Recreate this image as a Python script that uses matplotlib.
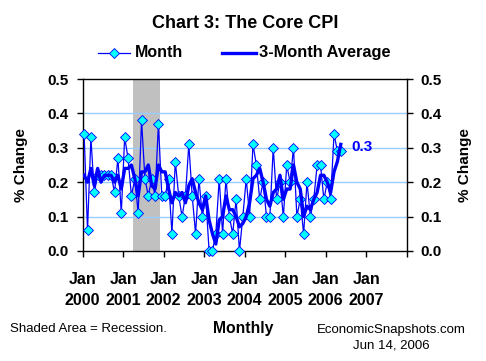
import numpy as np
import matplotlib
matplotlib.use("Agg")
import matplotlib.pyplot as plt

plt.rcParams['font.family'] = ['Liberation Sans', 'DejaVu Sans']

# --- dados: variação mensal do núcleo do CPI (%), jan/2000 a mai/2006 ---
month = [0.34, 0.06, 0.33, 0.17, 0.22, 0.22, 0.22, 0.22, 0.22, 0.17, 0.27, 0.11,
         0.33, 0.27, 0.16, 0.21, 0.11, 0.38, 0.21, 0.16, 0.21, 0.16, 0.37, 0.16,
         0.16, 0.21, 0.05, 0.26, 0.16, 0.10, 0.16, 0.31, 0.16, 0.05, 0.21, 0.10,
         0.16, 0.00, 0.00, 0.05, 0.21, 0.05, 0.21, 0.10, 0.05, 0.15, 0.00, 0.10,
         0.21, 0.10, 0.31, 0.25, 0.15, 0.20, 0.10, 0.10, 0.30, 0.15, 0.20, 0.10,
         0.25, 0.20, 0.30, 0.10, 0.15, 0.05, 0.20, 0.10, 0.15, 0.25, 0.25, 0.15,
         0.20, 0.15, 0.34, 0.29, 0.29]

avg3 = [0.22, 0.20, 0.24, 0.19, 0.24, 0.20, 0.22, 0.22, 0.22, 0.20, 0.22, 0.18,
        0.24, 0.24, 0.25, 0.21, 0.16, 0.23, 0.23, 0.25, 0.19, 0.18, 0.25, 0.23,
        0.23, 0.18, 0.14, 0.17, 0.16, 0.17, 0.14, 0.19, 0.21, 0.17, 0.14, 0.12,
        0.16, 0.09, 0.05, 0.02, 0.09, 0.10, 0.16, 0.12, 0.12, 0.10, 0.07, 0.08,
        0.10, 0.14, 0.21, 0.22, 0.24, 0.20, 0.15, 0.13, 0.17, 0.18, 0.22, 0.15,
        0.18, 0.18, 0.25, 0.20, 0.18, 0.10, 0.13, 0.12, 0.15, 0.17, 0.22, 0.22,
        0.20, 0.17, 0.23, 0.26, 0.31]

years = ['2000', '2001', '2002', '2003', '2004', '2005', '2006', '2007']
recession = (14.9, 22.8)   # mar/2001 a nov/2001, em meses desde jan/2000
last_label = '0.3'

# posição no meio do mês
x = np.arange(len(month)) + 0.45

fig = plt.figure(figsize=(4.86, 3.61), dpi=100)
ax = fig.add_axes([0.170, 0.305, 0.667, 0.476])

ax.axvspan(recession[0], recession[1], color='#C0C0C0', lw=0, zorder=0)
for yv in [0.1, 0.2, 0.3, 0.4]:
    ax.axhline(yv, color='#99CCFF', lw=1.0, zorder=1)

ax.plot(x, month, color='#0000FF', lw=0.9, marker='D', ms=5.0,
        mfc='#00FFFF', mec='#0000FF', mew=0.6, zorder=3, clip_on=False)
ax.plot(x, avg3, color='#0000FF', lw=2.4, zorder=4)

ax.text(x[-1] + 3.0, avg3[-1] - 0.008, last_label, color='#0000FF',
        fontsize=11, fontweight='bold', va='center', ha='left')

ax.set_xlim(0, 96)
ax.set_ylim(0, 0.5)
ax.set_xticks(np.arange(0, 97, 12))
ax.set_xticklabels(['Jan\n' + y for y in years] + [''])
ax.set_yticks(np.arange(0, 0.51, 0.1))
ax.set_yticklabels([f'{v:.1f}' for v in np.arange(0, 0.51, 0.1)])

ax.tick_params(axis='both', direction='out', length=4, width=1, colors='black',
               labelsize=11)
ax.tick_params(axis='y', right=True, labelright=True, pad=6)
ax.tick_params(axis='x', pad=11, labelsize=11.5)
for lab in ax.get_xticklabels() + ax.get_yticklabels():
    lab.set_fontweight('bold')
for t in ax.yaxis.get_major_ticks():
    t.label2.set_fontweight('bold')
for lab in ax.get_xticklabels():
    lab.set_linespacing(1.55)
for s in ax.spines.values():
    s.set_color('black')
    s.set_linewidth(1.0)

ax.set_ylabel('% Change', fontsize=11, fontweight='bold', labelpad=14)
fig.text(0.957, 0.543, '% Change', rotation=90, fontsize=11, fontweight='bold',
         ha='center', va='center')

fig.text(0.505, 1 - 23 / 361, 'Chart 3: The Core CPI', fontsize=13,
         fontweight='bold', ha='center', va='center')

# legenda manual
ly = 1 - 52.5 / 361
leg1 = plt.Line2D([0.201, 0.2345, 0.268], [ly, ly, ly], transform=fig.transFigure,
                  color='#0000FF', lw=0.9, marker='D', ms=5.0,
                  mfc='#00FFFF', mec='#0000FF', mew=0.6, markevery=[1])
fig.lines.append(leg1)
fig.text(0.278, ly, 'Month', fontsize=11.5, fontweight='bold', va='center')
leg2 = plt.Line2D([0.456, 0.527], [ly, ly], transform=fig.transFigure,
                  color='#0000FF', lw=2.4)
fig.lines.append(leg2)
fig.text(0.533, ly, '3-Month Average', fontsize=11.8, fontweight='bold',
         va='center')

fig.text(0.021, 1 - 329.5 / 361, 'Shaded Area = Recession.', fontsize=9.5,
         va='center')
fig.text(0.501, 1 - 328 / 361, 'Monthly', fontsize=11.3, fontweight='bold',
         ha='center', va='center')
fig.text(0.959, 1 - 329.5 / 361, 'EconomicSnapshots.com', fontsize=9.5,
         ha='right', va='center')
fig.text(0.885, 1 - 345.5 / 361, 'Jun 14, 2006', fontsize=9.5,
         ha='right', va='center')

fig.savefig('out.png', dpi=100)
